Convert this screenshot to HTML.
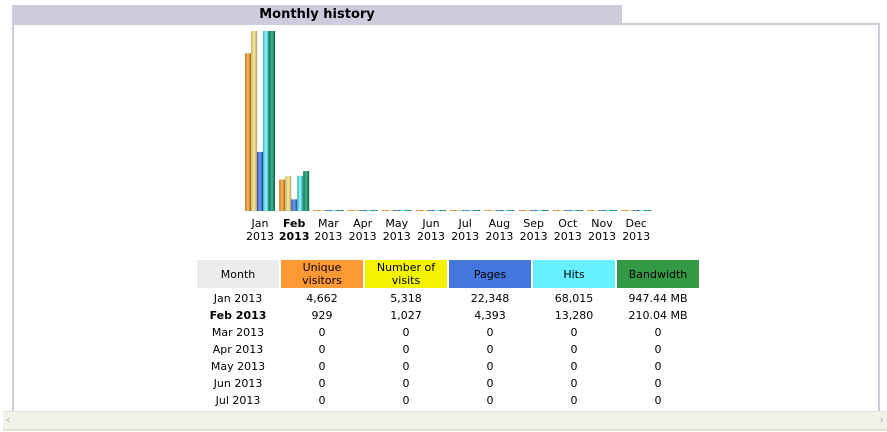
<!DOCTYPE html>
<html><head><meta charset="utf-8"><style>
body{margin:0;width:887px;height:432px;background:#fff;font-family:Verdana,"DejaVu Sans",sans-serif;font-size:11px;position:relative;overflow:hidden}
.abs{position:absolute}
#title{left:12px;top:5px;width:610px;height:18px;background:#ccccdd;font-weight:bold;font-size:13px;text-align:center;line-height:19px}
#box{left:12px;top:23px;width:868px;height:395px;border:2px solid #ccccdd;border-bottom:none;box-sizing:border-box}
.mlab{width:40px;text-align:center;font-size:11px;line-height:13px;top:217px}
.th{top:260px;height:28px;width:82px;font-size:11px;text-align:center;display:flex;align-items:center;justify-content:center;line-height:13px;padding:0 10px;box-sizing:border-box}
.td{width:82px;text-align:center;font-size:11px;height:17px;line-height:17px}
#scroll{left:3px;top:411px;width:884px;height:17px;background:#f3f2ea;border-top:1px solid #e2e0d4;border-bottom:2px solid #e2e0d4}
</style></head><body>
<div class="abs" id="title">Monthly history</div>
<div class="abs" id="box"></div>
<svg class="abs" style="left:0;top:0" width="887" height="432" id="chart">
<defs>
<linearGradient id="g0"><stop offset="0" stop-color="#c8761a"/><stop offset=".5" stop-color="#f7b862"/><stop offset="1" stop-color="#a85e10"/></linearGradient>
<linearGradient id="g1"><stop offset="0" stop-color="#c9b660"/><stop offset=".5" stop-color="#f4eba8"/><stop offset="1" stop-color="#b9a650"/></linearGradient>
<linearGradient id="g2"><stop offset="0" stop-color="#2a4fc0"/><stop offset=".5" stop-color="#7aa0f0"/><stop offset="1" stop-color="#1a3aa0"/></linearGradient>
<linearGradient id="g3"><stop offset="0" stop-color="#20b8c0"/><stop offset=".5" stop-color="#a0f4f6"/><stop offset="1" stop-color="#109aa0"/></linearGradient>
<linearGradient id="g4"><stop offset="0" stop-color="#0e6e50"/><stop offset=".5" stop-color="#40b890"/><stop offset="1" stop-color="#085a40"/></linearGradient>
</defs>
</svg>
<div id="tbl"></div>
<div class="abs" id="scroll"><span style="position:absolute;left:3px;top:1px;color:#aaa">‹</span><span style="position:absolute;right:3px;top:1px;color:#aaa">›</span></div>
<script>
const months=["Jan","Feb","Mar","Apr","May","Jun","Jul","Aug","Sep","Oct","Nov","Dec"];
const visitors=[4662,929,0,0,0,0,0,0,0,0,0,0];
const visits=[5318,1027,0,0,0,0,0,0,0,0,0,0];
const pages=[22348,4393,0,0,0,0,0,0,0,0,0,0];
const hits=[68015,13280,0,0,0,0,0,0,0,0,0,0];
const bandwidth=[947.44,210.04,0,0,0,0,0,0,0,0,0,0];
const bwText=["947.44 MB","210.04 MB","0","0","0","0","0"];
const headers=["Month","Unique visitors","Number of visits","Pages","Hits","Bandwidth"];
const svg=document.getElementById('chart');
const NS="http://www.w3.org/2000/svg";
const base=211,H=180;
const m1=Math.max(...visitors,...visits),m2=Math.max(...pages,...hits),m3=Math.max(...bandwidth);
const series=[[visitors,m1],[visits,m1],[pages,m2],[hits,m2],[bandwidth,m3]];
const xM=i=>245+i*34.2;
const y=(v,m)=>m?v/m*H:0;
months.forEach((mo,i)=>{
 series.forEach(([arr,m],k)=>{
  const h=Math.max(1,y(arr[i],m));
  const r=document.createElementNS(NS,'rect');
  r.setAttribute('x',xM(i)+k*6);r.setAttribute('y',base-h);r.setAttribute('width',6);r.setAttribute('height',h);
  r.setAttribute('fill','url(#g'+k+')');
  
  
  svg.appendChild(r);
 });
 const d=document.createElement('div');
 d.className='abs mlab';d.style.left=(xM(i)-5)+'px';
 if(i==1)d.style.fontWeight='bold';
 d.innerHTML=mo+'<br>2013';
 
 
 document.body.appendChild(d);
});
const colors=["#ececec","#ff9933","#f3f300","#4477dd","#66f0ff","#339944"];
const tbl=document.getElementById('tbl');
headers.forEach((h,c)=>{
 const d=document.createElement('div');
 d.className='abs th';d.style.left=(197+c*84)+'px';d.style.background=colors[c];
 d.textContent=h;
 
 
 tbl.appendChild(d);
});
const fmt=n=>n.toLocaleString('en-US');
for(let r=0;r<7;r++){
 const vals=[months[r]+" 2013",fmt(visitors[r]),fmt(visits[r]),fmt(pages[r]),fmt(hits[r]),bwText[r]];
 vals.forEach((v,c)=>{
  const d=document.createElement('div');
  d.className='abs td';d.style.left=(197+c*84)+'px';d.style.top=(290+r*17)+'px';
  if(r==1&&c==0)d.style.fontWeight='bold';
  d.textContent=v;
  
  
  tbl.appendChild(d);
 });
}
</script>
</body></html>
